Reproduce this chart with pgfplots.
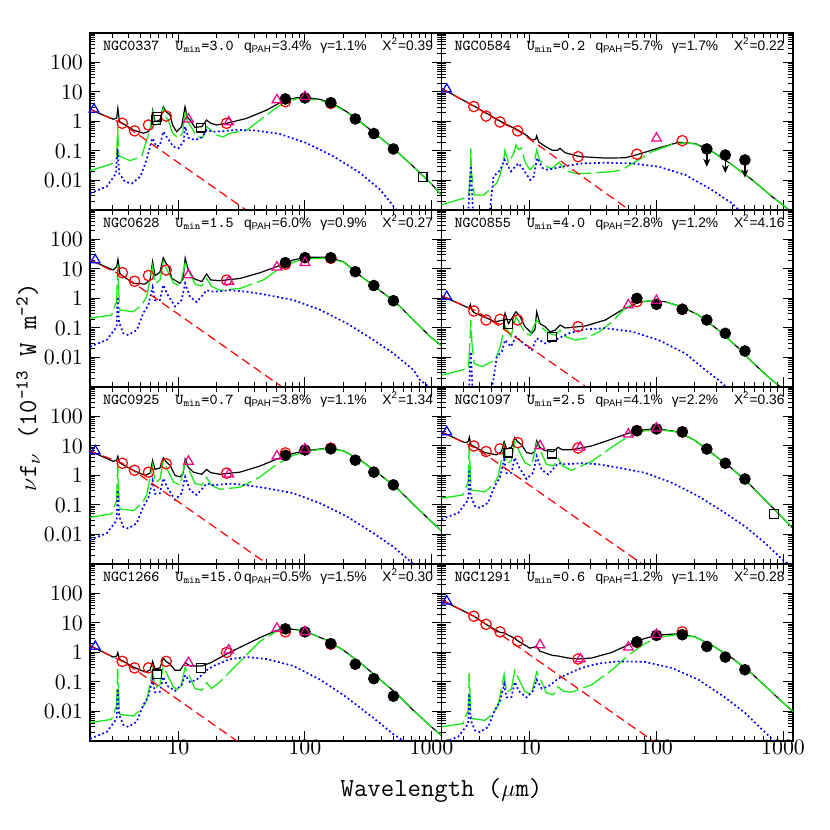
\documentclass[border=0pt]{standalone}
\usepackage{pgfplots}
\pgfplotsset{compat=1.18}
\usepgfplotslibrary{groupplots}
\usetikzlibrary{calc,arrows.meta}
\usepackage{fontspec}
\newfontfamily\sansf{Liberation Sans}
\definecolor{mygreen}{rgb}{0.1,0.92,0.1}
\pgfplotsset{
 tot/.style={black, line width=0.6pt, no markers},
 gr/.style={mygreen, line width=0.65pt, dash pattern=on 12pt off 2.5pt, no markers},
 bl/.style={blue, line width=0.85pt, dash pattern=on 0.9pt off 1.3pt, no markers},
 rd/.style={red, line width=0.6pt, dash pattern=on 4.5pt off 2.5pt, no markers},
 rc/.style={only marks, mark=o, mark size=2.6pt, red, mark options={line width=0.6pt}},
 bc/.style={only marks, mark=*, mark size=2.7pt, black},
 mt/.style={only marks, mark=triangle, mark size=2.8pt, magenta, mark options={line width=0.6pt}},
 bt/.style={only marks, mark=triangle, mark size=2.8pt, blue, mark options={line width=0.6pt}},
 sq/.style={only marks, mark=square, mark size=2.2pt, black, mark options={line width=0.6pt}},
}
\newcommand{\ptitle}[5]{%
 \node[anchor=base west,inner sep=0pt,font=\ttfamily\fontsize{7.6}{7.6}\selectfont] at (rel axis cs:0.036,0.90) {#1};
 \node[anchor=base west,inner sep=0pt,font=\ttfamily\fontsize{7.6}{7.6}\selectfont] at (rel axis cs:0.242,0.90) {U\textsubscript{min}=#2};
 \node[anchor=base west,inner sep=0pt,font=\sansf\fontsize{6.9}{6.9}\selectfont] at (rel axis cs:0.437,0.90) {q\textsubscript{PAH}=#3\%};
 \node[anchor=base west,inner sep=0pt,font=\sansf\fontsize{6.9}{6.9}\selectfont] at (rel axis cs:0.654,0.90) {γ=#4\%};
 \node[anchor=base west,inner sep=0pt,font=\sansf\fontsize{6.9}{6.9}\selectfont] at (rel axis cs:0.831,0.90) {X\textsuperscript{2}=#5};
}
\begin{document}
\begin{tikzpicture}
\begin{groupplot}[
 group style={group size=2 by 4, horizontal sep=0pt, vertical sep=0pt,
   xticklabels at=edge bottom, yticklabels at=edge left},
 width=175.75pt, height=88.5pt, scale only axis,
 xmode=log, ymode=log, xmin=2, xmax=1200, ymin=0.001, ymax=1000,
 log ticks with fixed point, /pgf/number format/1000 sep={},
 xtick={10,100,1000},
 minor xtick={3,4,5,6,7,8,9,20,30,40,50,60,70,80,90,200,300,400,500,600,700,800,900},
 ytick={0.01,0.1,1,10,100},
 minor ytick={0.002,0.003,0.004,0.005,0.006,0.007,0.008,0.009,0.02,0.03,0.04,0.05,0.06,0.07,0.08,0.09,0.2,0.3,0.4,0.5,0.6,0.7,0.8,0.9,2,3,4,5,6,7,8,9,20,30,40,50,60,70,80,90,200,300,400,500,600,700,800,900},
 tick align=inside, major tick length=5pt, minor tick length=2.5pt,
 tick style={black, line width=0.5pt},
 axis line style={line width=0.7pt},
 ticklabel style={font=\fontsize{11}{11}\selectfont},
 xticklabel style={yshift=4pt},
]
% ---------------- NGC0337
\nextgroupplot
\coordinate (tl) at (rel axis cs:0,1);
\addplot[tot] coordinates {(2,2.59)(3.05,1.19)(3.25,1.3)(3.32,2.8)(3.42,1.0)(4.4,0.515)(5.27,0.40)(5.78,0.45)(6.05,0.6)(6.25,2.32)(6.53,0.99)(7.14,1.12)(7.59,3.18)(7.98,2.15)(8.6,1.66)(9.0,0.75)(9.68,0.45)(10.6,0.67)(11.27,3.18)(11.75,1.39)(12.36,1.12)(13.5,0.63)(15.3,0.67)(16.7,1.12)(18.0,0.87)(20.0,0.76)(24.1,0.87)(34.7,1.28)(49.9,2.45)(67.6,5.07)(86.1,6.41)(103,6.41)(132,5.62)(168,3.92)(214,2.14)(273,0.99)(348,0.43)(500,0.123)(719,0.0295)(975,0.0085)(1202,0.0032)};
\addplot[gr] coordinates {(2,0.0215)(3.05,0.038)(3.25,0.06)(3.3,0.67)(3.38,0.07)(3.47,0.065)(4.14,0.047)(5.13,0.065)(5.45,0.16)(5.96,0.51)(6.25,2.0)(6.53,0.76)(7.14,0.87)(7.59,2.8)(7.98,1.39)(8.3,1.17)(9.0,0.40)(10.0,0.27)(10.8,0.40)(11.3,2.45)(11.75,0.99)(12.6,0.67)(14.0,0.30)(15.6,0.29)(16.7,0.67)(18.0,0.51)(20.0,0.35)(22.4,0.30)(25.6,0.40)(34.7,0.51)(44.2,1.12)(56.2,2.45)(67.6,4.2)(86.1,5.9)(103,5.9)(132,5.2)(168,3.7)(214,2.05)(273,0.97)(348,0.42)(500,0.122)(719,0.0293)(975,0.0085)(1202,0.0032)};
\addplot[bl] coordinates {(2,0.0037)(2.71,0.0062)(3.21,0.0174)(3.3,0.123)(3.4,0.0174)(3.78,0.0091)(4.27,0.0079)(5.0,0.0135)(5.6,0.050)(6.15,0.235)(6.25,0.27)(6.7,0.14)(7.14,0.16)(7.59,0.45)(8.17,0.28)(9.12,0.14)(10.0,0.123)(11.0,0.21)(11.3,0.67)(12.0,0.28)(13.5,0.235)(15.3,0.29)(16.7,0.51)(18.9,0.45)(22.6,0.47)(28.9,0.52)(41.6,0.49)(63,0.38)(103,0.186)(168,0.066)(273,0.018)(393,0.0049)(500,0.00135)(537,0.00093)(560,0.0007)};
\addplot[rd] coordinates {(2,2.6)(3.6,0.85)(5.25,0.276)(40,0.00063)};
\addplot[rc] coordinates {(3.6,0.87)(4.5,0.48)(5.8,0.76)(8.0,1.53)(24,0.87)(70,4.7)(160,4.1)};
\addplot[bc] coordinates {(70,5.8)(100,6.3)(160,4.35)(250,1.22)(350,0.39)(500,0.117)};
\addplot[mt] coordinates {(12,1.19)(25,0.96)(60,5.36)(100,6.9)};
\addplot[bt] coordinates {(2.15,2.59)};
\addplot[sq] coordinates {(6.75,1.45)(6.7,1.1)(15,0.62)(850,0.0129)};
\ptitle{NGC0337}{3.0}{3.4}{1.1}{0.39}
% ---------------- NGC0584
\nextgroupplot
\addplot[tot] coordinates {(2,13.0)(2.07,12.3)(3.73,3.09)(6.0,0.955)(8.13,0.50)(9.5,0.33)(10.35,0.234)(11.1,0.25)(11.3,0.324)(11.75,0.20)(12.7,0.16)(14.9,0.107)(16.5,0.105)(17.3,0.123)(19.0,0.087)(24.8,0.0646)(39.4,0.0575)(56.6,0.0589)(72.1,0.0776)(103.8,0.126)(149,0.197)(203,0.178)(274,0.0977)(394,0.0347)(568,0.0107)(817,0.00288)(1122,0.001)(1202,0.0008)};
\addplot[gr] coordinates {(2,0.0015)(3.27,0.0028)(3.38,0.02)(3.41,0.123)(3.45,0.02)(3.63,0.0032)(4.30,0.0032)(5.47,0.0081)(5.82,0.0158)(6.2,0.05)(6.35,0.107)(6.76,0.040)(7.41,0.079)(7.75,0.158)(8.13,0.112)(8.51,0.126)(9.2,0.04)(10.0,0.023)(10.7,0.0316)(11.3,0.107)(12.0,0.045)(12.7,0.040)(13.6,0.0295)(14.8,0.025)(17.0,0.0417)(19.0,0.0219)(22.8,0.0174)(27.4,0.0174)(44.5,0.020)(53.2,0.023)(72.1,0.050)(92,0.095)(132,0.166)(168,0.19)(203,0.172)(274,0.096)(394,0.0343)(568,0.0106)(817,0.00286)(1122,0.001)(1202,0.0008)};
\addplot[bl] coordinates {(3.25,0.0008)(3.41,0.0316)(3.55,0.0008)(4.8,0.0008)(5.15,0.0135)(5.82,0.023)(6.3,0.050)(7.08,0.0204)(7.64,0.0295)(8.13,0.038)(8.91,0.023)(10.05,0.0105)(10.7,0.0135)(11.4,0.0575)(12.6,0.0263)(13.8,0.023)(17.9,0.0295)(25.7,0.038)(39.4,0.040)(64,0.038)(103.8,0.0295)(169,0.0155)(274,0.0048)(394,0.0017)(447,0.001)(480,0.0008)};
\addplot[rd] coordinates {(2,13.2)(3.73,3.02)(6.0,0.91)(8.22,0.457)(61,0.001)(70,0.00066)};
\addplot[rc] coordinates {(3.6,3.2)(4.5,1.53)(5.8,0.96)(8.0,0.48)(24,0.064)(70,0.078)(160,0.224)};
\addplot[bc, error bars/.cd, y dir=minus, y explicit, error mark=none, error bar style={line width=0.7pt, -{Stealth[length=4pt,width=3.5pt]}}] coordinates {(250,0.117) -= (0,0.088) (350,0.073) -= (0,0.055) (500,0.0496) -= (0,0.037)};
\addplot[mt] coordinates {(100,0.27)};
\addplot[bt] coordinates {(2.2,12.3)};
\ptitle{NGC0584}{0.2}{5.7}{1.7}{0.22}
% ---------------- NGC0628
\nextgroupplot
\addplot[tot] coordinates {(2,20.2)(3.05,9.25)(3.25,12)(3.33,21.2)(3.45,7.0)(3.6,6.0)(4.4,3.27)(5.45,3.09)(5.96,4.24)(6.25,17.8)(6.53,6.0)(7.14,7.76)(7.59,24.2)(7.98,15.6)(8.4,12.0)(8.85,4.79)(10.3,3.27)(10.9,4.79)(11.3,23.1)(11.97,9.25)(13.1,4.79)(15.3,3.74)(16.7,6.76)(18.0,4.24)(21.3,4.02)(30.7,4.79)(44.2,7.5)(59.8,12.0)(80.9,20.2)(103.3,24.9)(149,24.9)(201,17.8)(273,6.0)(393,1.84)(531,0.685)(719,0.187)(975,0.0513)(1202,0.025)};
\addplot[gr] coordinates {(2,0.214)(2.96,0.275)(3.25,0.8)(3.31,14.1)(3.4,0.79)(3.45,0.41)(4.4,0.355)(5.12,0.60)(5.6,1.15)(6.25,12.6)(6.53,3.16)(7.14,4.17)(7.59,17.8)(8.17,8.9)(9.12,3.39)(10.3,2.63)(11.3,15.8)(12.36,7.1)(13.5,3.09)(15.3,2.63)(16.7,4.79)(18.2,2.63)(21.3,1.9)(30.7,2.19)(46.8,4.24)(63.1,10.5)(87.1,19.1)(103,22)(149,23.5)(201,17.2)(273,5.9)(393,1.82)(531,0.68)(719,0.186)(975,0.051)(1202,0.025)};
\addplot[bl] coordinates {(2,0.0234)(2.71,0.039)(3.25,0.11)(3.31,1.15)(3.4,0.15)(3.67,0.066)(4.02,0.0575)(4.68,0.085)(5.27,0.316)(5.78,0.60)(6.25,2.4)(6.53,0.87)(7.14,0.89)(7.59,2.86)(8.17,1.41)(9.40,0.54)(10.6,0.89)(11.3,3.24)(12.36,1.12)(13.96,0.76)(16.7,1.9)(18.9,1.7)(25.6,1.9)(34.7,1.7)(49.9,1.32)(80.9,0.89)(132,0.41)(214,0.145)(348,0.039)(500,0.0138)(719,0.0038)(813,0.0017)(955,0.001)(1050,0.0007)};
\addplot[rd] coordinates {(2,20)(3.6,6.0)(4.5,3.2)(66,0.001)(75,0.00068)};
\addplot[rc] coordinates {(3.6,7.5)(4.5,3.83)(5.8,6.0)(8.0,9.2)(24,4.2)(70,14.4)(160,23)};
\addplot[bc] coordinates {(70,16.4)(100,24.2)(160,24.2)(250,8.1)(350,2.75)(500,0.84)};
\addplot[mt] coordinates {(12,6.3)(25,3.8)(60,11.5)(100,16.4)};
\addplot[bt] coordinates {(2.2,20.2)};
\ptitle{NGC0628}{1.5}{6.0}{0.9}{0.27}
% ---------------- NGC0855
\nextgroupplot
\addplot[tot] coordinates {(2,1.18)(2.07,1.15)(3.3,0.47)(3.38,0.63)(3.5,0.38)(3.63,0.33)(5.31,0.162)(6.17,0.186)(6.35,0.316)(6.76,0.141)(7.75,0.355)(8.32,0.251)(9.16,0.11)(10.35,0.066)(10.96,0.089)(11.3,0.355)(12.0,0.141)(13.2,0.11)(14.45,0.074)(15.85,0.085)(17.3,0.126)(19.0,0.10)(21.4,0.105)(27.4,0.117)(39.4,0.186)(53.2,0.407)(72.1,0.741)(92,0.851)(117,0.776)(158,0.525)(215,0.275)(309,0.085)(447,0.0204)(603,0.0056)(813,0.00174)(955,0.001)(1050,0.0006)};
\addplot[gr] coordinates {(2,0.0025)(3.27,0.0043)(3.35,0.03)(3.41,0.186)(3.48,0.03)(3.63,0.0063)(4.17,0.0049)(5.31,0.0083)(5.82,0.0234)(6.35,0.117)(7.08,0.051)(7.75,0.24)(8.32,0.145)(9.12,0.066)(10.0,0.0575)(11.3,0.186)(12.6,0.098)(14.1,0.066)(15.85,0.0575)(17.3,0.085)(19.05,0.051)(22.8,0.039)(27.4,0.0447)(35.5,0.076)(44.7,0.162)(56.2,0.468)(72.1,0.776)(92,0.84)(117,0.77)(158,0.52)(215,0.273)(309,0.0845)(447,0.0203)(603,0.0056)(813,0.00173)(955,0.001)(1050,0.0006)};
\addplot[bl] coordinates {(3.3,0.0008)(3.41,0.0158)(3.52,0.0008)(5.0,0.0008)(5.47,0.0107)(6.0,0.0158)(6.35,0.039)(7.08,0.0234)(7.75,0.051)(8.91,0.030)(10.35,0.0178)(11.3,0.0447)(13.2,0.030)(15.85,0.039)(20.2,0.066)(27.4,0.091)(39.4,0.098)(64,0.076)(103.8,0.039)(169,0.0138)(243,0.0038)(309,0.00174)(355,0.001)(380,0.0007)};
\addplot[rd] coordinates {(2,1.25)(3.73,0.38)(5.31,0.145)(27.9,0.001)(32,0.00066)};
\addplot[rc] coordinates {(3.6,0.377)(4.5,0.187)(5.8,0.197)(8.0,0.187)(24,0.111)(70,0.78)(160,0.43)};
\addplot[bc] coordinates {(70,1.01)(100,0.635)(160,0.43)(250,0.187)(350,0.066)(500,0.0166)};
\addplot[mt] coordinates {(60,0.60)(100,0.85)};
\addplot[bt] coordinates {(2.2,1.15)};
\addplot[sq] coordinates {(6.75,0.137)(15,0.051)};
\ptitle{NGC0855}{4.0}{2.8}{1.2}{4.16}
% ---------------- NGC0925
\nextgroupplot
\addplot[tot] coordinates {(2,6.8)(3.05,3.0)(3.25,3.3)(3.32,4.5)(3.42,2.7)(4.4,1.5)(5.45,1.0)(5.96,1.2)(6.25,3.2)(6.53,1.6)(7.14,1.8)(7.59,4.0)(7.98,2.9)(8.6,2.2)(9.4,1.0)(10.3,0.9)(10.9,1.2)(11.3,3.6)(11.97,1.9)(13.1,1.3)(15.3,1.1)(16.7,1.6)(18.0,1.25)(21.3,1.1)(30.7,1.3)(44.2,2.1)(59.8,3.6)(80.9,5.6)(103,7.0)(149,8.4)(201,6.9)(273,3.4)(393,1.05)(531,0.38)(719,0.105)(975,0.03)(1202,0.013)};
\addplot[gr] coordinates {(2,0.038)(2.96,0.05)(3.25,0.144)(3.31,2.5)(3.4,0.14)(3.45,0.074)(4.4,0.064)(5.12,0.11)(5.6,0.21)(6.25,2.3)(6.53,0.58)(7.14,0.74)(7.59,3.2)(8.17,1.6)(9.12,0.61)(10.3,0.47)(11.3,2.85)(12.36,1.28)(13.5,0.54)(15.3,0.47)(16.7,0.86)(18.2,0.47)(21.3,0.34)(30.7,0.40)(44.2,0.9)(59.8,2.4)(80.9,4.8)(103,6.6)(149,8.2)(201,6.8)(273,3.35)(393,1.04)(531,0.38)(719,0.105)(975,0.03)(1202,0.013)};
\addplot[bl] coordinates {(2,0.0066)(2.71,0.011)(3.25,0.030)(3.31,0.32)(3.4,0.042)(3.67,0.018)(4.02,0.016)(4.68,0.024)(5.27,0.088)(5.78,0.17)(6.25,0.67)(6.53,0.24)(7.14,0.25)(7.59,0.8)(8.17,0.39)(9.4,0.15)(10.6,0.25)(11.3,0.9)(12.36,0.31)(13.96,0.22)(16.7,0.53)(18.9,0.47)(25.6,0.53)(34.7,0.47)(49.9,0.37)(80.9,0.25)(132,0.114)(214,0.041)(348,0.011)(500,0.0038)(719,0.001)(800,0.0006)};
\addplot[rd] coordinates {(2,6.8)(3.6,2.6)(4.5,1.4)(50.4,0.001)(58,0.00066)};
\addplot[rc] coordinates {(3.6,2.6)(4.5,1.5)(5.8,1.3)(8.0,2.5)(24,1.2)(70,5.8)(160,8.5)};
\addplot[bc] coordinates {(70,4.8)(100,7.3)(160,8.0)(250,3.3)(350,1.3)(500,0.48)};
\addplot[mt] coordinates {(12,3.0)(25,1.1)(60,4.5)(100,7.8)};
\addplot[bt] coordinates {(2.2,6.8)};
\ptitle{NGC0925}{0.7}{3.8}{1.1}{1.34}
% ---------------- NGC1097
\nextgroupplot
\addplot[tot] coordinates {(2,30)(3.05,13)(3.25,14)(3.32,20)(3.42,11)(4.4,6)(5.45,5)(5.96,6.5)(6.25,14)(6.53,8)(7.14,9)(7.59,19)(7.98,14)(8.6,11)(9.4,6)(10.3,5.5)(10.9,6.5)(11.3,15)(11.97,9)(13.1,7)(15.3,6.5)(16.7,9)(18,7.5)(21.3,7.5)(30.7,10)(44.2,17)(59.8,27)(80.9,36)(103,38)(149,30)(201,15.5)(273,5.8)(393,1.75)(531,0.56)(719,0.15)(975,0.04)(1202,0.016)};
\addplot[gr] coordinates {(2,0.17)(2.96,0.22)(3.25,0.63)(3.31,11)(3.4,0.62)(3.45,0.32)(4.4,0.28)(5.12,0.48)(5.6,0.91)(6.25,9.9)(6.53,2.5)(7.14,3.2)(7.59,14)(8.17,7)(9.12,2.7)(10.3,2.1)(11.3,12.5)(12.36,5.6)(13.5,2.4)(15.3,2.1)(16.7,3.8)(18.2,2.1)(21.3,1.5)(30.7,3.0)(44.2,9)(59.8,21)(80.9,33)(103,36)(149,29.5)(201,15.3)(273,5.7)(393,1.73)(531,0.55)(719,0.15)(975,0.04)(1202,0.016)};
\addplot[bl] coordinates {(2,0.033)(2.71,0.054)(3.25,0.15)(3.31,1.6)(3.4,0.21)(3.67,0.092)(4.02,0.08)(4.68,0.12)(5.27,0.44)(5.78,0.84)(6.25,3.4)(6.53,1.2)(7.14,1.24)(7.59,4)(8.17,1.96)(9.4,0.76)(10.6,1.24)(11.3,4.5)(12.36,1.56)(13.96,1.08)(16.7,2.6)(18.9,2.4)(25.6,2.6)(34.7,2.4)(49.9,1.84)(80.9,1.24)(132,0.57)(214,0.2)(348,0.054)(500,0.019)(719,0.0052)(975,0.0015)(1100,0.001)(1202,0.0007)};
\addplot[rd] coordinates {(2,30)(3.6,9)(4.5,5)(77,0.001)(88,0.00066)};
\addplot[rc] coordinates {(3.6,10)(4.5,6.5)(5.8,8)(8.0,13)(24,8.5)(70,33)(160,30)};
\addplot[bc] coordinates {(70,33)(100,38)(160,30)(250,7.9)(350,2.6)(500,0.76)};
\addplot[mt] coordinates {(12,10)(25,9)(60,25)(100,40)};
\addplot[bt] coordinates {(2.2,30)};
\addplot[sq] coordinates {(6.75,6)(15,5.5)(850,0.05)};
\ptitle{NGC1097}{2.5}{4.1}{2.2}{0.36}
% ---------------- NGC1266
\nextgroupplot
\addplot[tot] coordinates {(2,1.7)(3.05,0.7)(3.25,0.75)(3.32,1.0)(3.42,0.6)(4.4,0.32)(5.45,0.22)(5.96,0.25)(6.25,0.5)(6.53,0.28)(7.14,0.3)(7.59,0.65)(7.98,0.5)(8.6,0.4)(9.4,0.25)(10.3,0.25)(11.3,0.45)(12.36,0.35)(15.3,0.35)(18,0.45)(24.1,0.9)(30.7,1.5)(44.2,3.2)(59.8,5.6)(70,6.3)(86,6.0)(103,5.0)(149,2.6)(201,1.2)(273,0.45)(393,0.12)(531,0.04)(719,0.011)(975,0.0033)(1202,0.0015)};
\addplot[gr] coordinates {(2,0.0042)(2.96,0.0054)(3.25,0.016)(3.31,0.28)(3.4,0.015)(3.45,0.008)(4.4,0.007)(5.12,0.012)(5.6,0.023)(6.25,0.25)(6.53,0.063)(7.14,0.08)(7.59,0.35)(8.17,0.175)(9.12,0.067)(10.3,0.052)(11.3,0.31)(12.36,0.14)(13.5,0.06)(15.3,0.052)(16.7,0.095)(18.2,0.06)(21.3,0.1)(30.7,0.5)(44.2,2.4)(59.8,5.2)(70,6.0)(86,5.8)(103,4.9)(149,2.55)(201,1.18)(273,0.44)(393,0.118)(531,0.04)(719,0.011)(975,0.0033)(1202,0.0015)};
\addplot[bl] coordinates {(2,0.0012)(2.71,0.002)(3.25,0.0057)(3.31,0.06)(3.4,0.0078)(3.67,0.0035)(4.02,0.003)(4.68,0.0045)(5.27,0.0165)(5.78,0.032)(6.25,0.126)(6.53,0.045)(7.14,0.047)(7.59,0.15)(8.17,0.074)(9.4,0.05)(10.6,0.08)(11.3,0.17)(12.36,0.1)(13.96,0.12)(16.7,0.25)(18.9,0.35)(25.6,0.6)(34.7,0.7)(49.9,0.6)(80.9,0.35)(132,0.12)(214,0.03)(348,0.006)(500,0.0017)(600,0.001)(650,0.0007)};
\addplot[rd] coordinates {(2,1.7)(3.6,0.5)(4.5,0.27)(29,0.001)(33,0.00068)};
\addplot[rc] coordinates {(3.6,0.5)(4.5,0.3)(5.8,0.3)(8.0,0.5)(24,1.0)(70,5.0)(160,1.9)};
\addplot[bc] coordinates {(70,6.3)(100,5.0)(160,2.0)(250,0.4)(350,0.13)(500,0.033)};
\addplot[mt] coordinates {(12,0.45)(25,1.2)(60,6.5)(100,5.0)};
\addplot[bt] coordinates {(2.2,1.6)};
\addplot[sq] coordinates {(6.75,0.18)(15,0.3)};
\ptitle{NGC1266}{15.0}{0.5}{1.5}{0.30}
% ---------------- NGC1291
\nextgroupplot
\coordinate (br) at (rel axis cs:1,0);
\addplot[tot] coordinates {(2,60)(3.6,17)(4.5,9)(5.8,4.8)(6.25,4.6)(7.59,3.0)(8,2.5)(10,1.4)(11.3,1.6)(12,1.1)(15,0.8)(17,0.75)(20,0.65)(24.1,0.6)(30.7,0.65)(44.2,1.0)(59.8,1.8)(80.9,3.0)(103,3.9)(149,4.3)(201,3.4)(273,1.8)(393,0.66)(531,0.25)(719,0.075)(975,0.022)(1202,0.01)};
\addplot[gr] coordinates {(2,0.003)(2.96,0.0039)(3.25,0.011)(3.31,0.2)(3.4,0.011)(3.45,0.0058)(4.4,0.005)(5.12,0.0085)(5.6,0.016)(6.25,0.18)(6.53,0.045)(7.14,0.058)(7.59,0.25)(8.17,0.125)(9.12,0.048)(10.3,0.037)(11.3,0.22)(12.36,0.1)(13.5,0.043)(15.3,0.037)(16.7,0.068)(18.2,0.05)(21.3,0.045)(30.7,0.08)(44.2,0.25)(59.8,0.8)(80.9,2.0)(103,3.2)(149,4.1)(201,3.35)(273,1.78)(393,0.65)(531,0.25)(719,0.075)(975,0.022)(1202,0.01)};
\addplot[bl] coordinates {(2,0.00082)(2.71,0.0014)(3.25,0.0038)(3.31,0.04)(3.4,0.0052)(3.67,0.0023)(4.02,0.002)(4.68,0.003)(5.27,0.011)(5.78,0.021)(6.25,0.084)(6.53,0.03)(7.14,0.031)(7.59,0.1)(8.17,0.049)(9.4,0.03)(10.6,0.05)(11.3,0.12)(12.36,0.06)(13.96,0.07)(16.7,0.13)(18.9,0.17)(25.6,0.3)(34.7,0.42)(49.9,0.5)(80.9,0.48)(132,0.3)(214,0.12)(348,0.03)(500,0.009)(719,0.002)(850,0.001)(950,0.0006)};
\addplot[rd] coordinates {(2,60)(3.6,17)(4.5,9)(94,0.001)(105,0.00072)};
\addplot[rc] coordinates {(3.6,17)(4.5,9)(5.8,5)(8.0,2.4)(24,0.6)(70,2.2)(160,5)};
\addplot[bc] coordinates {(70,2.3)(100,3.8)(160,4.0)(250,1.6)(350,0.7)(500,0.26)};
\addplot[mt] coordinates {(12,1.8)(25,0.6)(60,1.5)(100,4)};
\addplot[bt] coordinates {(2.2,55)};
\ptitle{NGC1291}{0.6}{1.2}{1.1}{0.28}
\end{groupplot}
\node[rotate=90, font=\ttfamily\fontsize{13}{13}\selectfont] at ($(tl)!0.5!(tl|-br)+(-31pt,0)$) {$\nu$f$_\nu$ (10\textsuperscript{-13} W m\textsuperscript{-2})};
\node[font=\ttfamily\fontsize{13}{13}\selectfont] at ($(tl|-br)!0.5!(br)+(0,-24.5pt)$) {Wavelength ($\mu$m)};
\pgfresetboundingbox
\path ($(tl)+(-45pt,16.5pt)$) rectangle ($(br)+(18.5pt,-44.5pt)$);
\end{tikzpicture}
\end{document}
